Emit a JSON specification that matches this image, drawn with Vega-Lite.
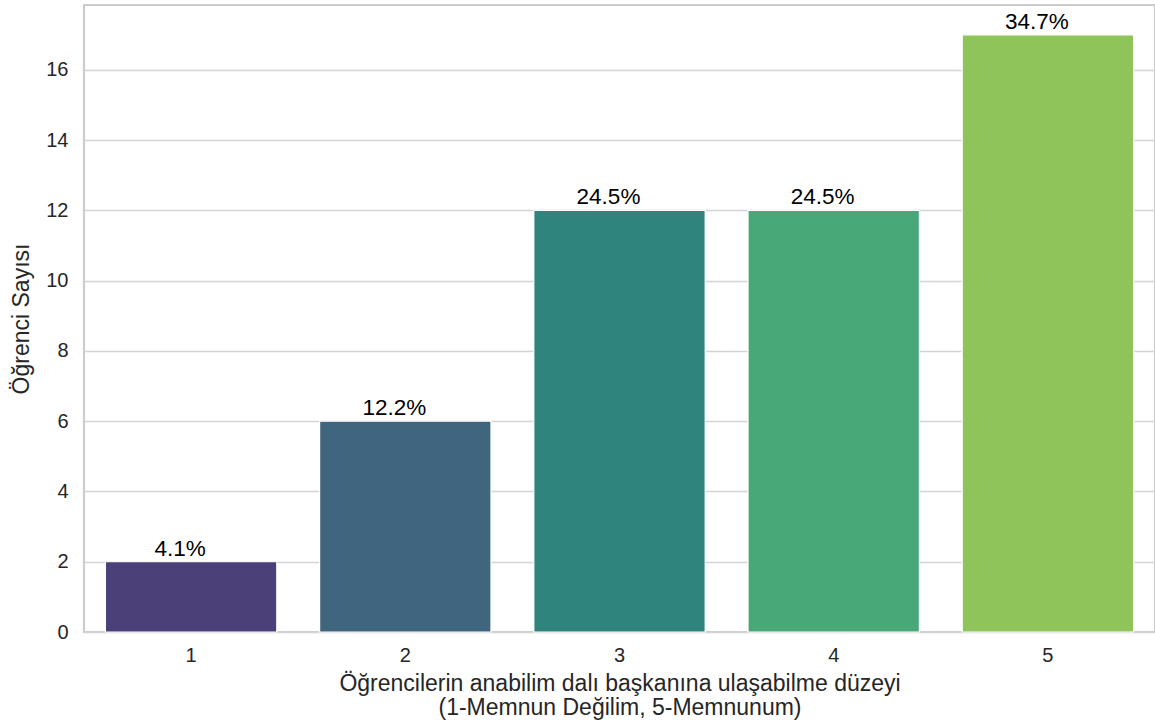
{
  "$schema": "https://vega.github.io/schema/vega-lite/v6.json",
  "width": 1071,
  "height": 627,
  "autosize": {"type": "none"},
  "padding": {"left": 84, "top": 5, "right": 0, "bottom": 95},
  "background": "white",
  "config": {
    "font": "Liberation Sans",
    "view": {"stroke": "#cccccc", "strokeWidth": 2.2}
  },
  "data": {
    "values": [
      {"level": "1", "count": 2, "label": "4.1%"},
      {"level": "2", "count": 6, "label": "12.2%"},
      {"level": "3", "count": 12, "label": "24.5%"},
      {"level": "4", "count": 12, "label": "24.5%"},
      {"level": "5", "count": 17, "label": "34.7%"}
    ]
  },
  "encoding": {
    "x": {
      "field": "level",
      "type": "ordinal",
      "sort": null,
      "scale": {"paddingInner": 0.2, "paddingOuter": 0.1},
      "axis": {
        "title": ["Öğrencilerin anabilim dalı başkanına ulaşabilme düzeyi", "(1-Memnun Değilim, 5-Memnunum)"],
        "titleFontSize": 23,
        "titleFontWeight": "normal",
        "titleColor": "#262626",
        "titleLineHeight": 24,
        "titlePadding": 7,
        "labelAngle": 0,
        "labelFontSize": 20,
        "labelColor": "#262626",
        "labelPadding": 13,
        "ticks": false,
        "domain": false,
        "grid": false
      }
    },
    "y": {
      "field": "count",
      "type": "quantitative",
      "scale": {"domain": [0, 17.85], "nice": false},
      "axis": {
        "title": "Öğrenci Sayısı",
        "titleFontSize": 23,
        "titleFontWeight": "normal",
        "titleColor": "#262626",
        "titlePadding": 12,
        "values": [0, 2, 4, 6, 8, 10, 12, 14, 16],
        "labelFontSize": 20,
        "labelColor": "#262626",
        "labelPadding": 16,
        "ticks": false,
        "domain": false,
        "grid": true,
        "gridColor": "#d4d4d4",
        "gridWidth": 1.6
      }
    }
  },
  "layer": [
    {
      "mark": {"type": "bar", "stroke": "white", "strokeWidth": 1.2},
      "encoding": {
        "color": {
          "field": "level",
          "type": "ordinal",
          "scale": {"range": ["#4b4178", "#3f657f", "#2f847e", "#48a878", "#8ec45a"]},
          "legend": null
        }
      }
    },
    {
      "mark": {"type": "text", "baseline": "alphabetic", "dy": -6, "dx": -11, "fontSize": 22.5, "color": "black"},
      "encoding": {"text": {"field": "label"}}
    }
  ]
}
